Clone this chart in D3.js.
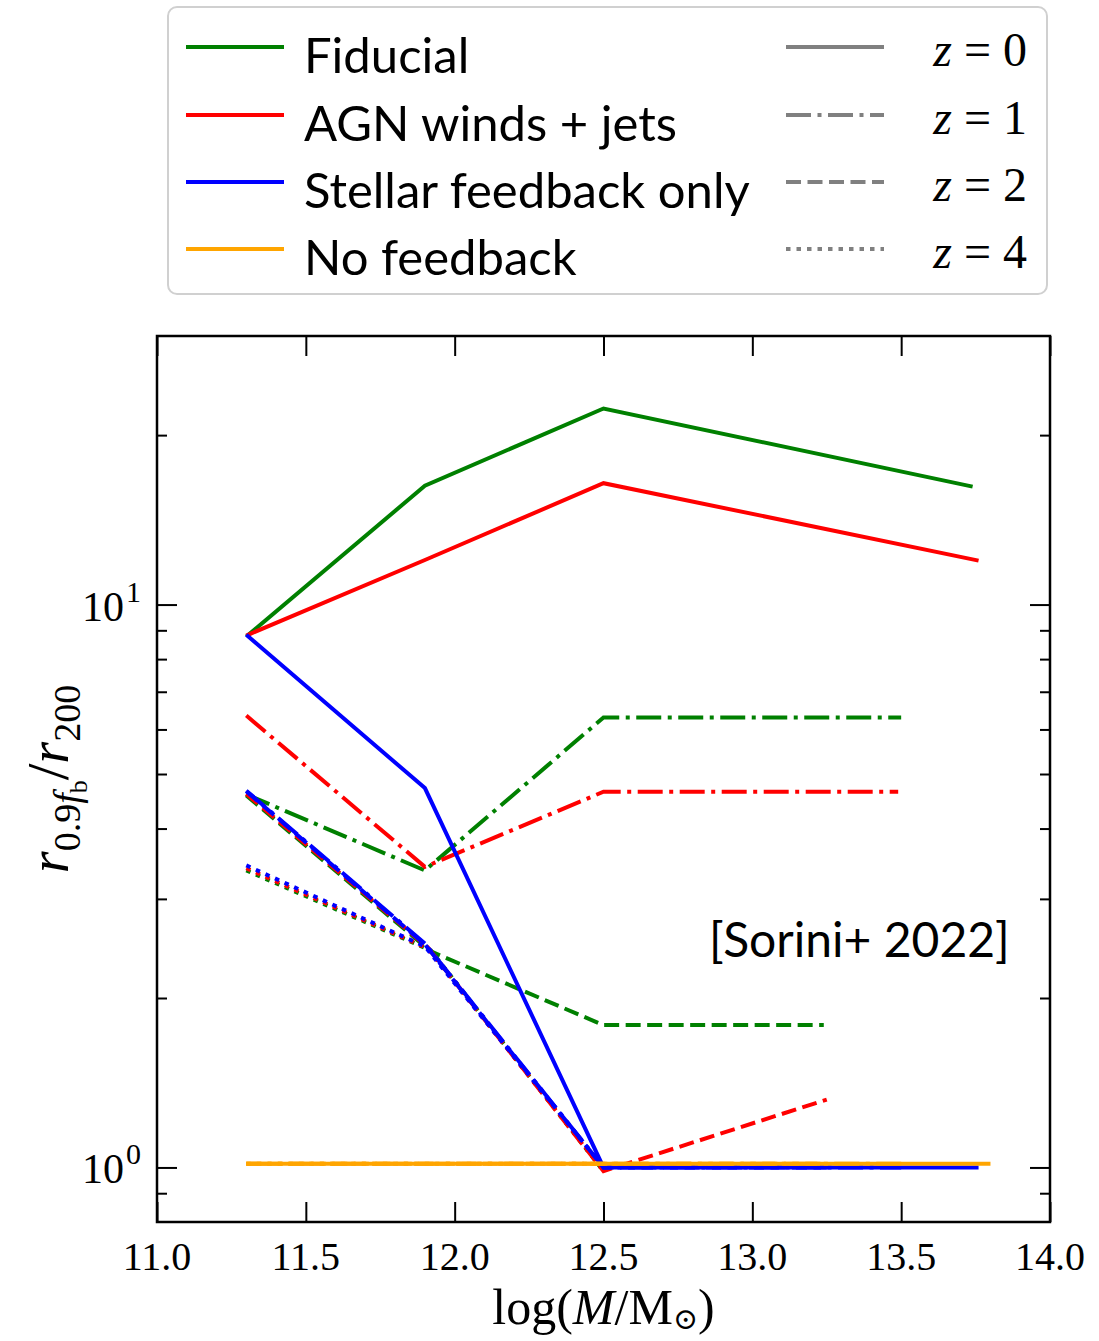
<!DOCTYPE html>
<html>
<head>
<meta charset="utf-8">
<script src="https://cdn.jsdelivr.net/npm/d3@7"></script>
<style>
  html, body { margin: 0; padding: 0; background: #fff; }
  svg { display: block; }
</style>
</head>
<body>
<svg id="chart" width="1099" height="1341"></svg>
<script>
// Feedback models and redshifts
const models = ["Fiducial", "AGN winds + jets", "Stellar feedback only", "No feedback"];
const modelColors = ["#008000", "#ff0000", "#0000ff", "#ffa500"];
const redshifts = [0, 1, 2, 4];
const redshiftDash = ["none", "25 6.5 4 6.5", "15 6.5", "4.5 6"];

// Axis ticks
const xTicks = [11.0, 11.5, 12.0, 12.5, 13.0, 13.5, 14.0];
const xTickLabels = ["11.0", "11.5", "12.0", "12.5", "13.0", "13.5", "14.0"];
const yMajorTicks = [1, 10];
const yMajorExponents = ["0", "1"];
const yMinorTicks = [0.9, 2, 3, 4, 5, 6, 7, 8, 9, 20];

// r_{0.9 f_b} / r_200 against log halo mass, [log M, ratio]
const fiducialZ0 = [[11.30, 8.77], [11.90, 16.26], [12.50, 22.3], [13.74, 16.2]];
const fiducialZ1 = [[11.30, 4.60], [11.90, 3.37], [12.50, 6.30], [13.50, 6.30]];
const fiducialZ2 = [[11.30, 4.58], [11.92, 2.42], [12.50, 1.79], [13.24, 1.79]];
const fiducialZ4 = [[11.30, 3.37], [11.92, 2.43], [12.50, 0.985]];

const agnZ0 = [[11.30, 8.81], [11.90, 12.0], [12.50, 16.43], [13.76, 11.97]];
const agnZ1 = [[11.30, 6.35], [11.90, 3.42], [12.50, 4.65], [13.49, 4.65]];
const agnZ2 = [[11.30, 4.61], [11.91, 2.46], [12.50, 0.985], [13.25, 1.32]];
const agnZ4 = [[11.30, 3.40], [11.91, 2.45], [12.50, 0.99]];

const stellarZ0 = [[11.30, 8.84], [11.90, 4.72], [12.50, 1.0], [13.76, 1.0]];
const stellarZ1 = [[11.30, 4.67], [11.90, 2.50], [12.50, 1.0], [13.50, 1.0]];
const stellarZ2 = [[11.30, 4.66], [11.90, 2.49], [12.50, 1.0], [13.25, 1.0]];
const stellarZ4 = [[11.30, 3.44], [11.90, 2.47], [12.50, 1.0]];

const noFeedbackZ0 = [[11.30, 1.015], [11.90, 1.015], [12.50, 1.015], [13.80, 1.015]];
const noFeedbackZ1 = [[11.30, 1.015], [11.90, 1.015], [12.50, 1.015], [13.50, 1.015]];
const noFeedbackZ2 = [[11.30, 1.015], [11.90, 1.015], [12.50, 1.015], [13.25, 1.015]];
const noFeedbackZ4 = [[11.30, 1.015], [11.90, 1.015], [12.50, 1.015]];

const seriesByModel = [
  [fiducialZ0, fiducialZ1, fiducialZ2, fiducialZ4],
  [agnZ0, agnZ1, agnZ2, agnZ4],
  [stellarZ0, stellarZ1, stellarZ2, stellarZ4],
  [noFeedbackZ0, noFeedbackZ1, noFeedbackZ2, noFeedbackZ4]
];

const svg = d3.select("#chart");
const plot = { left: 157, right: 1050, top: 336, bottom: 1222 };

const x = d3.scaleLinear().domain([11, 14]).range([plot.left, plot.right]);
const y = d3.scaleLog().domain([0.8, 30]).range([plot.bottom, plot.top]);

const serif = "'Liberation Serif', 'DejaVu Serif', serif";
const sans = "Lato, 'Open Sans', sans-serif";
const lineWidth = 4;

// Data lines, clipped to the axes box
svg.append("clipPath").attr("id", "plotClip")
  .append("rect")
  .attr("x", plot.left).attr("y", plot.top)
  .attr("width", plot.right - plot.left).attr("height", plot.bottom - plot.top);

const line = d3.line().x(d => x(d[0])).y(d => y(d[1]));
const linesG = svg.append("g").attr("clip-path", "url(#plotClip)");

seriesByModel.forEach((seriesList, mi) => {
  seriesList.forEach((pts, zi) => {
    linesG.append("path")
      .datum(pts)
      .attr("d", line)
      .attr("fill", "none")
      .attr("stroke", modelColors[mi])
      .attr("stroke-width", lineWidth)
      .attr("stroke-linejoin", "miter")
      .attr("stroke-dasharray", redshiftDash[zi]);
  });
});

// Axes: ticks pointing inward on all four sides
const tickLen = 20, minorLen = 10;
const axisBottom = d3.axisBottom(x).tickValues(xTicks).tickSizeInner(-tickLen).tickSizeOuter(0).tickFormat("");
const axisTop = d3.axisTop(x).tickValues(xTicks).tickSizeInner(-tickLen).tickSizeOuter(0).tickFormat("");
const axisLeftMajor = d3.axisLeft(y).tickValues(yMajorTicks).tickSizeInner(-tickLen).tickSizeOuter(0).tickFormat("");
const axisLeftMinor = d3.axisLeft(y).tickValues(yMinorTicks).tickSizeInner(-minorLen).tickSizeOuter(0).tickFormat("");
const axisRightMajor = d3.axisRight(y).tickValues(yMajorTicks).tickSizeInner(-tickLen).tickSizeOuter(0).tickFormat("");
const axisRightMinor = d3.axisRight(y).tickValues(yMinorTicks).tickSizeInner(-minorLen).tickSizeOuter(0).tickFormat("");

function styleAxis(g) {
  g.select(".domain").remove();
  g.selectAll(".tick line").attr("stroke", "#000").attr("stroke-width", 2);
}
svg.append("g").attr("transform", `translate(0,${plot.bottom})`).call(axisBottom).call(styleAxis);
svg.append("g").attr("transform", `translate(0,${plot.top})`).call(axisTop).call(styleAxis);
svg.append("g").attr("transform", `translate(${plot.left},0)`).call(axisLeftMajor).call(styleAxis);
svg.append("g").attr("transform", `translate(${plot.left},0)`).call(axisLeftMinor).call(styleAxis);
svg.append("g").attr("transform", `translate(${plot.right},0)`).call(axisRightMajor).call(styleAxis);
svg.append("g").attr("transform", `translate(${plot.right},0)`).call(axisRightMinor).call(styleAxis);

// Frame
svg.append("rect")
  .attr("x", plot.left).attr("y", plot.top)
  .attr("width", plot.right - plot.left).attr("height", plot.bottom - plot.top)
  .attr("fill", "none").attr("stroke", "#000").attr("stroke-width", 2.5);

// Tick labels
svg.append("g").selectAll("text")
  .data(xTicks)
  .join("text")
  .attr("x", d => x(d))
  .attr("y", plot.bottom + 48)
  .attr("text-anchor", "middle")
  .attr("font-family", serif)
  .attr("font-size", 40)
  .text((d, i) => xTickLabels[i]);

yMajorTicks.forEach((v, i) => {
  const t = svg.append("text")
    .attr("x", plot.left - 16)
    .attr("y", y(v) + 16)
    .attr("text-anchor", "end")
    .attr("font-family", serif)
    .attr("font-size", 42);
  t.append("tspan").text("10");
  t.append("tspan").attr("font-size", 30).attr("dx", 2).attr("dy", -19).text(yMajorExponents[i]);
});

// X axis title: log(M/M_sun)
const xTitle = svg.append("text")
  .attr("x", (plot.left + plot.right) / 2)
  .attr("y", 1324)
  .attr("text-anchor", "middle")
  .attr("font-family", serif)
  .attr("font-size", 50);
xTitle.append("tspan").text("log(");
xTitle.append("tspan").attr("font-style", "italic").text("M");
xTitle.append("tspan").text("/M");
xTitle.append("tspan").attr("font-size", 30).attr("dy", 5).text("\u2299");
xTitle.append("tspan").attr("dy", -5).text(")");

// Y axis title: r_{0.9 f_b} / r_200
const yTitle = svg.append("text")
  .attr("transform", `translate(68,${(plot.top + plot.bottom) / 2}) rotate(-90)`)
  .attr("text-anchor", "middle")
  .attr("font-family", serif)
  .attr("font-size", 56);
yTitle.append("tspan").attr("font-style", "italic").text("r");
yTitle.append("tspan").attr("font-size", 38).attr("dy", 12).text("0.9");
yTitle.append("tspan").attr("font-size", 38).attr("font-style", "italic").text("f");
yTitle.append("tspan").attr("font-size", 26).attr("dy", 7).text("b");
yTitle.append("tspan").attr("dy", -19).attr("font-size", 60).text("/");
yTitle.append("tspan").attr("font-style", "italic").text("r");
yTitle.append("tspan").attr("font-size", 38).attr("dy", 12).text("200");

// Reference annotation
svg.append("text")
  .attr("x", 709)
  .attr("y", 957)
  .attr("font-family", sans)
  .attr("font-size", 48)
  .attr("fill", "#000")
  .text("[Sorini+ 2022]");

// Legend
const legend = svg.append("g");
legend.append("rect")
  .attr("x", 168).attr("y", 7)
  .attr("width", 879).attr("height", 287)
  .attr("rx", 9)
  .attr("fill", "#fff")
  .attr("stroke", "#d0d0d0")
  .attr("stroke-width", 2);

const legendRows = [47, 115, 182, 249];

models.forEach((name, i) => {
  legend.append("line")
    .attr("x1", 186).attr("x2", 284)
    .attr("y1", legendRows[i]).attr("y2", legendRows[i])
    .attr("stroke", modelColors[i]).attr("stroke-width", lineWidth);
  legend.append("text")
    .attr("x", 304)
    .attr("y", legendRows[i] + 26)
    .attr("font-family", sans)
    .attr("font-size", 49)
    .attr("fill", "#000")
    .text(name);
});

redshifts.forEach((z, i) => {
  legend.append("line")
    .attr("x1", 786).attr("x2", 884)
    .attr("y1", legendRows[i]).attr("y2", legendRows[i])
    .attr("stroke", "#808080").attr("stroke-width", lineWidth)
    .attr("stroke-dasharray", redshiftDash[i]);
  const t = legend.append("text")
    .attr("x", 1027)
    .attr("y", legendRows[i] + 19)
    .attr("text-anchor", "end")
    .attr("font-family", serif)
    .attr("font-size", 48)
    .attr("fill", "#000");
  t.append("tspan").attr("font-style", "italic").text("z");
  t.append("tspan").text(" = " + z);
});
</script>
</body>
</html>
